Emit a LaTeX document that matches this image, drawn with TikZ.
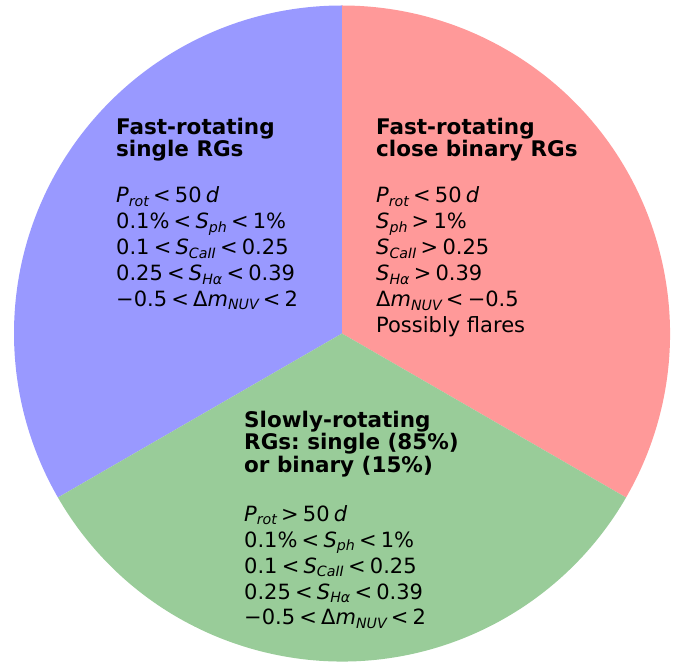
\documentclass[tikz,border=0pt]{standalone}
\usepackage{fontspec}
\setmainfont{DejaVu Sans}
\usepackage{xcolor}
\frenchspacing

\definecolor{fastsingle}{HTML}{9999FF}
\definecolor{fastbinary}{HTML}{FF9999}
\definecolor{slowrot}{HTML}{99CC99}

% subscript, relations and italic symbols
\newcommand{\lidx}[1]{\raisebox{-3.5pt}{\fontsize{14.2}{14.2}\selectfont\itshape #1}}
\newcommand{\iv}[1]{{\itshape #1}}
\newcommand{\rlt}{\hspace{0.2em}<\hspace{0.2em}}
\newcommand{\rgt}{\hspace{0.2em}>\hspace{0.2em}}

\begin{document}
\begin{tikzpicture}[x=1pt,y=1pt,
  headtxt/.style={anchor=base west,inner sep=0pt,align=left,
    font=\fontsize{21.5}{22.5}\selectfont\bfseries},
  bodytxt/.style={anchor=base west,inner sep=0pt,align=left,
    font=\fontsize{21}{25.9}\selectfont}]

\useasboundingbox (0,0) rectangle (683,664);

\coordinate (o) at (342,330.5);

% the three wedges
\fill[fastsingle] (o) -- ++(90:328) arc[start angle=90,end angle=210,radius=328] -- cycle;
\fill[fastbinary] (o) -- ++(-30:328) arc[start angle=-30,end angle=90,radius=328] -- cycle;
\fill[slowrot] (o) -- ++(210:328) arc[start angle=210,end angle=330,radius=328] -- cycle;

% fast-rotating single (anchored at last baseline)
\node[headtxt] (fsh) at (116,507) {Fast-rotating\\single RGs};
\node[bodytxt] (fsb) at (116,357.5) {%
  \iv{P}\lidx{rot}\rlt 50\hspace{0.2em}\iv{d}\\
  0.1\%\rlt\iv{S}\lidx{ph}\rlt 1\%\\
  0.1\rlt\iv{S}\lidx{CaII}\rlt 0.25\\
  0.25\rlt\iv{S}\lidx{Hα}\rlt 0.39\\
  −0.5\rlt Δ\iv{m}\lidx{NUV}\rlt 2};

% fast-rotating close binary
\node[headtxt] (fbh) at (376,507) {Fast-rotating\\close binary RGs};
\node[bodytxt] (fbb) at (376,331.5) {%
  \iv{P}\lidx{rot}\rlt 50\hspace{0.2em}\iv{d}\\
  \iv{S}\lidx{ph}\rgt 1\%\\
  \iv{S}\lidx{CaII}\rgt 0.25\\
  \iv{S}\lidx{Hα}\rgt 0.39\\
  Δ\iv{m}\lidx{NUV}\rlt −0.5\\
  Possibly flares};

% slowly-rotating
\node[headtxt] (srh) at (244,191.5) {Slowly-rotating\\RGs: single (85\%)\\or binary (15\%)};
\node[bodytxt] (srb) at (244,39) {%
  \iv{P}\lidx{rot}\rgt 50\hspace{0.2em}\iv{d}\\
  0.1\%\rlt\iv{S}\lidx{ph}\rlt 1\%\\
  0.1\rlt\iv{S}\lidx{CaII}\rlt 0.25\\
  0.25\rlt\iv{S}\lidx{Hα}\rlt 0.39\\
  −0.5\rlt Δ\iv{m}\lidx{NUV}\rlt 2};

\end{tikzpicture}
\end{document}
